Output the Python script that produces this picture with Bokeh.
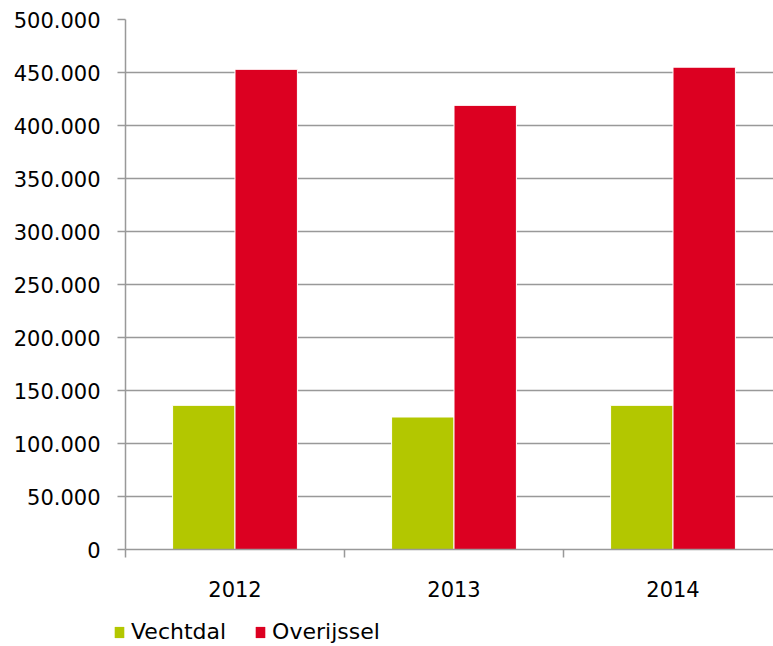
from bokeh.plotting import figure
from bokeh.models import Range1d, FixedTicker, Legend, LegendItem
from bokeh.embed import file_html
from bokeh.resources import INLINE

years = ["2012", "2013", "2014"]
vechtdal = [136000, 125000, 136000]
overijssel = [453000, 419000, 455000]
series_names = ["Vechtdal", "Overijssel"]
y_ticks = [0, 50000, 100000, 150000, 200000, 250000, 300000, 350000, 400000, 450000, 500000]

GREEN = "#B3C700"
RED = "#DC0021"
GRID = "#999999"
FONT = "DejaVu Sans"
FS = "21px"

W, H, LH = 773, 610, 36
LEFT, TOP, BOTTOM = 125, 19, 61
CAT_W = 219

idx = list(range(len(years)))
centers = [i + 0.5 for i in idx]
x_v = [c - 0.1425 for c in centers]
x_o = [c + 0.1425 for c in centers]

p = figure(width=W, height=H, output_backend="svg", toolbar_location=None,
           x_range=Range1d(0, (W - LEFT) / CAT_W), y_range=Range1d(0, 500000),
           min_border_left=LEFT, min_border_right=0, min_border_top=TOP,
           min_border_bottom=BOTTOM)
p.outline_line_color = None
p.background_fill_color = "white"
p.border_fill_color = "white"

p.vbar(x=x_v, top=vechtdal, width=0.285, fill_color=GREEN, line_color="white", line_width=1)
p.vbar(x=x_o, top=overijssel, width=0.285, fill_color=RED, line_color="white", line_width=1)

# x axis
p.xaxis.ticker = FixedTicker(ticks=centers, minor_ticks=[0, 1, 2, 3])
p.xaxis.major_label_overrides = {c: y for c, y in zip(centers, years)}
p.xaxis.major_tick_out = 0
p.xaxis.major_tick_in = 0
p.xaxis.minor_tick_out = 8
p.xaxis.minor_tick_in = 0
p.xaxis.minor_tick_line_color = GRID
p.xaxis.minor_tick_line_width = 1.5
p.xaxis.axis_line_color = GRID
p.xaxis.axis_line_width = 1.5
p.xaxis.major_label_standoff = 23
p.xaxis.major_label_text_font = FONT
p.xaxis.major_label_text_font_size = FS
p.xaxis.major_label_text_color = "black"

# y axis
p.yaxis.ticker = FixedTicker(ticks=y_ticks)
p.yaxis.major_label_overrides = {t: f"{t:,}".replace(",", ".") for t in y_ticks}
p.yaxis.major_tick_out = 8
p.yaxis.major_tick_in = 0
p.yaxis.major_tick_line_color = GRID
p.yaxis.major_tick_line_width = 1.5
p.yaxis.minor_tick_line_color = None
p.yaxis.axis_line_color = GRID
p.yaxis.axis_line_width = 1.5
p.yaxis.major_label_standoff = 17
p.yaxis.major_label_text_font = FONT
p.yaxis.major_label_text_font_size = FS
p.yaxis.major_label_text_color = "black"

p.xgrid.visible = False
p.ygrid.grid_line_color = GRID
p.ygrid.grid_line_width = 1.5

# legend strip (separate root so its frame is not aligned to the chart)
lf = figure(width=W, height=LH, output_backend="svg", toolbar_location=None,
            x_axis_type=None, y_axis_type=None, x_range=Range1d(0, 1), y_range=Range1d(0, 1),
            min_border=0)
lf.outline_line_color = None
lf.grid.visible = False
lf.background_fill_color = "white"
lf.border_fill_color = "white"
lr1 = lf.vbar(x=[-5], top=[-5], width=0.1, fill_color=GREEN, line_color=None)
lr2 = lf.vbar(x=[-5], top=[-5], width=0.1, fill_color=RED, line_color=None)

legend = Legend(items=[LegendItem(label=series_names[0], renderers=[lr1]),
                       LegendItem(label=series_names[1], renderers=[lr2])],
                orientation="horizontal", location=(113, 2))
legend.margin = 0
legend.padding = 0
legend.border_line_color = None
legend.background_fill_alpha = 0
legend.glyph_width = 12
legend.glyph_height = 14
legend.label_standoff = 6
legend.spacing = 28
legend.label_text_font = FONT
legend.label_text_font_size = "22px"
legend.label_text_color = "black"
lf.add_layout(legend, "center")

open("out.html", "w").write(file_html([p, lf], INLINE))
